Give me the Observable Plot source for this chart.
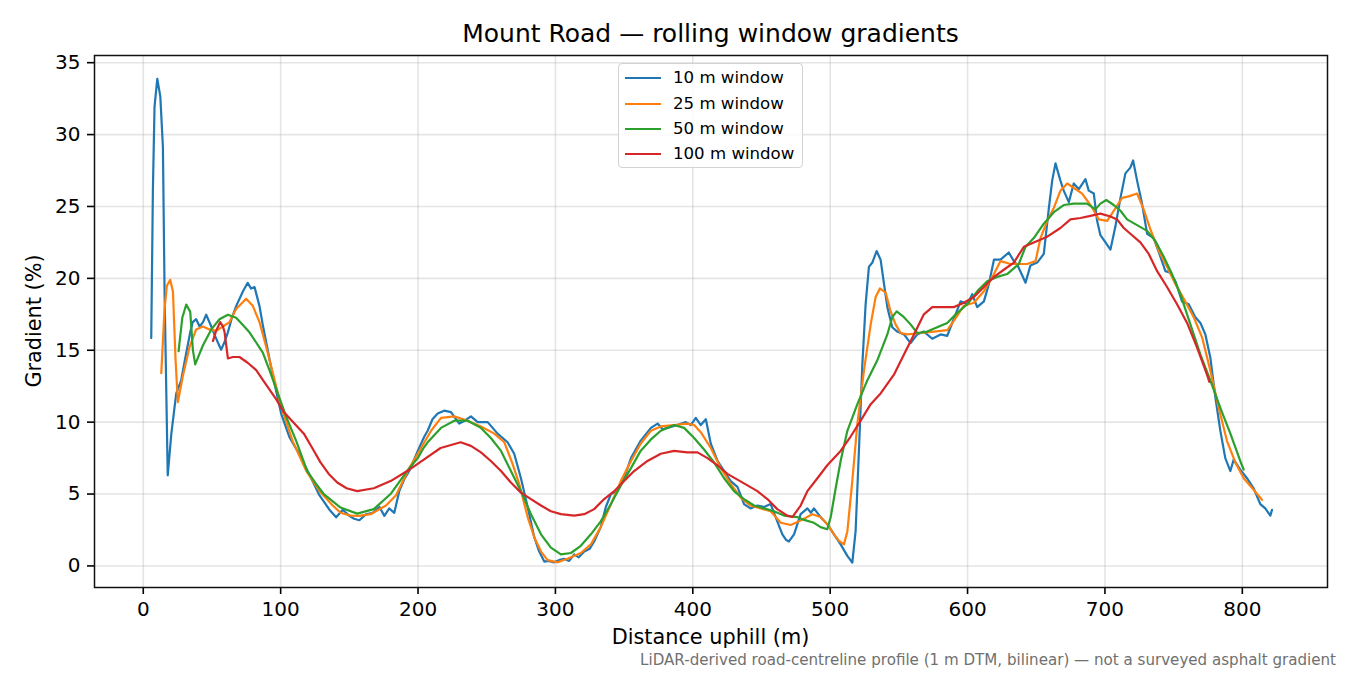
<!DOCTYPE html>
<html>
<head>
<meta charset="utf-8">
<script src="https://cdn.jsdelivr.net/npm/d3@7"></script>
<script src="https://cdn.jsdelivr.net/npm/@observablehq/plot@0.6"></script>
<style>
  html, body { margin: 0; padding: 0; background: #fff; }
  #wrap { position: relative; width: 1350px; height: 675px; font-family: "DejaVu Sans", sans-serif; color: #000; overflow: hidden; }
  #chart { position: absolute; left: 0; top: 0; }
  .abs { position: absolute; white-space: nowrap; line-height: 1; }
  #title { left: 0; width: 1421px; text-align: center; top: 21px; font-size: 25px; }
  #xlabel { left: 0; width: 1421px; text-align: center; top: 627px; font-size: 20.8px; }
  #ylabel { left: 34px; top: 321px; font-size: 20.8px; transform: translate(-50%, -50%) rotate(-90deg); }
  #caption { right: 14px; top: 653px; font-size: 15.1px; color: #707070; }
  #legend { left: 618px; top: 63px; width: 183px; height: 103px; border: 1px solid #d3d3d3; border-radius: 4px; background: rgba(255,255,255,0.85); }
  .lrow { position: absolute; left: 0; height: 20px; width: 183px; }
  .lsw { position: absolute; left: 6px; width: 36px; height: 2.3px; top: 9px; }
  .ltx { position: absolute; left: 54px; top: 2px; font-size: 16.6px; line-height: 1; }
</style>
</head>
<body>
<div id="wrap">
  <div id="chart"></div>
  <div class="abs" id="title">Mount Road — rolling window gradients</div>
  <div class="abs" id="xlabel">Distance uphill (m)</div>
  <div class="abs" id="ylabel">Gradient (%)</div>
  <div class="abs" id="caption">LiDAR-derived road-centreline profile (1 m DTM, bilinear) — not a surveyed asphalt gradient</div>
  <div class="abs" id="legend"></div>
</div>
<script>
// ---- Data ----
const seriesNames = ["10 m window", "25 m window", "50 m window", "100 m window"];
const seriesColors = ["#1f77b4", "#ff7f0e", "#2ca02c", "#d62728"];
const xTicks = [0, 100, 200, 300, 400, 500, 600, 700, 800];
const yTicks = [0, 5, 10, 15, 20, 25, 30, 35];

const dist10 = [5.8,7.0,8.2,10.2,12.4,14.3,15.5,17.8,20.4,24,27.6,31.3,34.2,36,38.5,41,43.5,45.8,49.5,52,54.3,56.7,59,61.6,64.5,67.6,72.5,76,78.5,81,84.6,87,89.5,94.3,100.4,106.4,113.7,121,128.2,135.5,140.4,145.2,150,153.5,157.3,162,167,171.9,175.5,179,182.7,186.4,190,193.7,199.8,204.6,207,210.5,214.3,219,224,227,230,234,238.5,243.4,250.7,257.9,265.2,270,274.9,279.8,284.6,288.2,291.9,295,299,302.5,306.4,310,313.7,317,321,325,328.2,333,336.7,340.4,345,350,355,362,369.5,374.4,378,381.6,388.8,394.9,398.5,402.2,405.8,409.5,413.1,418,422.8,427.6,432.5,437.3,442,447,451.8,456.7,461.5,465.2,468,470,473.7,478.5,483.4,486,488.2,493,497.9,502.8,507.6,512.5,516.1,518.5,521,523.4,525.8,528.2,530.7,533.8,536.7,539.2,541.6,545.2,548.8,553.7,558.5,563.4,568.2,574.3,580.4,585.2,587.6,591.3,594.9,599.8,603.4,607,611.9,615.5,619.2,624,630,633.7,636.5,642.2,645.8,650.7,655.5,659.2,661.6,664,667.6,670,673.7,677.3,681,685.8,688.2,691.9,694.3,696.7,700.4,704,707.6,711.3,714.9,718.5,720.5,723.4,727,730.7,735.5,740.4,744,747.6,751.3,756.1,761,765.8,769.5,773.1,776.7,780.4,784,787.6,791.3,793.7,798.5,803.4,808.2,813.1,816.7,820.4,821.6];
const grad10 = [15.85,26.1,31.95,33.88,32.66,29.12,19.09,6.3,9.16,12.0,12.91,14.83,16.25,16.96,17.16,16.65,16.96,17.47,16.65,16.05,15.54,15.04,15.54,16.25,17.26,18.07,19.09,19.69,19.29,19.39,18.07,16.76,15.54,13.21,10.58,8.96,7.75,6.34,4.92,3.91,3.38,3.91,3.48,3.28,3.18,3.59,3.69,4.1,3.48,4.0,3.69,5.23,6.03,6.63,8.0,9.0,9.4,10.2,10.6,10.8,10.7,10.3,9.9,10.1,10.4,10.0,10.0,9.2,8.6,7.8,6.1,4.1,2.0,1.0,0.3,0.35,0.25,0.4,0.5,0.35,0.8,0.6,1.0,1.2,1.7,2.7,4.1,5.0,5.2,6.1,7.5,8.7,9.6,9.9,9.5,9.6,9.8,10.0,9.8,10.3,9.8,10.2,8.5,7.3,6.6,5.9,5.5,4.3,4.0,4.2,4.1,4.3,3.1,2.2,1.8,1.7,2.2,3.6,4.0,3.7,4.0,3.4,2.9,2.2,1.5,0.7,0.23,2.4,8.2,14.0,18.2,20.8,21.1,21.9,21.3,19.6,18.0,16.6,16.3,16.1,15.5,16.1,16.3,15.8,16.1,16.0,16.6,17.5,18.4,18.2,18.9,18.0,18.4,19.6,21.3,21.3,21.8,21.2,20.9,19.7,20.9,21.1,21.7,24.9,26.8,28.0,26.8,26.1,25.3,26.6,26.2,26.9,26.1,25.9,24.0,23.0,22.5,22.0,23.6,25.6,27.3,27.7,28.2,26.8,25.2,23.1,22.8,21.5,20.5,20.4,19.8,18.4,18.2,17.3,16.9,16.1,14.5,11.7,9.4,7.5,6.6,7.4,6.7,6.1,5.4,4.3,4.0,3.5,3.9];

const dist25 = [13.1,15.5,17.2,19.6,21.6,23.5,25.2,28.8,33.7,38.5,43.4,48.2,53.1,57.9,62.8,67.6,74.9,79.8,84.6,89.5,94.3,100.4,108.8,118.5,128.2,137.9,143.6,150.9,157.3,165.4,176.7,184,193.7,199.8,209.5,216.7,226.4,236.1,245.8,255.5,262.8,268.8,273.7,279.8,284.6,289.5,294.3,301.6,308.8,318.5,325.8,333,340.4,347.6,355,362,369.5,376.7,386.4,396,401,405.8,413.1,420.4,427.6,434.9,442,449.4,456.7,464,471.3,477.3,487,493,497.9,502.8,506.4,510,512.5,516.1,519.8,524.6,529.5,533.1,536.2,540.4,544,547.6,551.3,556.1,565.8,575.5,585.2,590,597.3,604.6,611.9,619.2,624,631.3,638.5,643.4,649.5,653.1,658,662.8,667.6,672.5,677.3,683.4,689.5,695.5,701.6,706.4,712.5,717.3,723.4,728.2,733.1,739.2,745.2,751.3,757.3,764.6,770.7,776.7,782.8,788.8,794.9,801,808.2,814.3];
const grad25 = [13.41,17.88,19.49,19.9,19.09,14.33,11.39,13.21,15.23,16.45,16.65,16.45,16.35,16.65,16.96,17.87,18.58,18.07,16.96,15.23,13.41,11.08,8.66,6.63,5.21,4.2,3.7,3.5,3.48,3.6,4.2,4.92,6.83,7.8,9.4,10.3,10.4,10.1,9.7,9.2,8.6,7.1,5.7,3.4,2.0,1.0,0.4,0.25,0.5,0.9,1.5,2.7,4.3,5.9,7.3,8.5,9.4,9.7,9.8,9.9,9.8,9.3,8.2,6.8,5.7,4.75,4.2,4.0,3.8,3.0,2.85,3.1,3.6,3.4,2.9,2.2,1.74,1.5,2.4,5.9,9.9,13.6,16.8,18.7,19.3,19.0,17.7,16.8,16.2,16.1,16.2,16.3,16.4,17.05,18.1,18.3,19.1,20.3,21.2,21.0,21.0,21.0,21.2,22.8,24.0,24.9,26.1,26.6,26.3,25.9,25.1,24.1,24.0,24.7,25.6,25.7,25.9,24.8,23.4,21.9,20.8,19.6,18.6,17.3,15.9,13.6,11.0,8.7,7.2,6.1,5.3,4.6];

const dist50 = [25.7,28.4,31.3,34.2,36.1,37.8,43.4,49.5,55.5,61.6,67.6,72.5,77.3,82.2,87,91.9,98,104,111.3,119.3,125.8,131.4,143.6,155.7,167.8,180,192,199.8,204,207,216.7,226.4,236.1,245.8,253,260.4,267.6,274.9,282.2,289.5,296.7,304,311.3,318.5,325.8,333,340.4,347.6,355,362,369.5,376.7,386.4,393.7,401,408.2,415.5,422.8,430,437.3,444.6,452,459,466.4,476,481,488.2,493,497.9,500.4,504,507.6,512.5,519.8,527,534.3,541.6,545.2,548.4,553.7,558.5,563.4,570.6,577.9,585.2,592.5,599.8,607,614.3,621.6,628.8,637.3,642.2,648.2,655.5,662.8,670,677.3,687,693.1,696.7,701,706.4,711.3,716.1,723.4,730.7,736.7,742.8,748.8,754.9,762.2,769.5,776.7,784,791.3,798.5,801];
const grad50 = [14.93,17.26,18.18,17.67,15.03,14.02,15.33,16.45,17.16,17.47,17.26,16.76,16.25,15.54,14.83,13.6,11.99,10.38,8.7,6.6,5.7,5.0,4.06,3.64,3.95,5.0,6.6,7.5,8.2,8.6,9.6,10.1,10.1,9.6,8.9,8.0,6.6,5.2,3.6,2.2,1.27,0.8,0.9,1.4,2.2,3.1,4.3,5.6,6.8,8.0,8.8,9.4,9.8,9.6,8.9,8.1,7.2,6.1,5.2,4.65,4.2,4.0,3.8,3.5,3.4,3.2,3.0,2.7,2.55,3.4,5.4,7.3,9.4,11.25,12.9,14.3,16.1,17.3,17.7,17.3,16.8,16.2,16.3,16.6,16.9,17.6,18.2,19.1,19.8,20.1,20.3,21.0,22.2,22.8,23.8,24.6,25.1,25.2,25.2,24.8,25.2,25.45,25.1,24.7,24.1,23.7,23.3,22.6,21.5,20.3,18.9,16.8,14.7,12.9,11.0,9.2,7.3,6.7];

const dist100 = [50.7,53,56,58,59.2,61.6,65.2,70,76,82.2,88,96.7,102.3,110,116.9,123,129,135,141.2,148,155.7,167.8,180,192.1,204.2,216.4,231,238.5,245.8,253,260.4,267.6,274.9,282.2,289.5,296.7,304,313.7,321,328.2,335.5,342.8,350,357.3,367,376.7,386.4,396,403.4,410.7,418,425.2,432.5,439.8,447,454.3,461.5,468.8,472.5,478.5,483.4,490.7,497.9,507.6,514.9,522.2,529.5,536.7,546.4,553.7,561,568.2,574.3,582.8,590,597.3,604.6,611.9,619.2,626.4,633.7,641,648.2,658,667.6,674.9,682.2,689.5,696.7,704,708.8,713.7,718.5,725.8,731.9,738,745.2,752.5,759.8,767,774.3,776];
const grad100 = [15.64,16.35,16.96,16.65,16.25,14.43,14.53,14.53,14.13,13.62,12.8,11.6,10.7,9.9,9.2,8.2,7.2,6.4,5.8,5.4,5.2,5.4,5.9,6.6,7.4,8.2,8.6,8.35,7.9,7.3,6.6,5.8,5.1,4.65,4.2,3.8,3.6,3.5,3.6,3.95,4.65,5.2,5.9,6.6,7.3,7.8,8.0,7.9,7.9,7.5,7.0,6.4,6.0,5.6,5.2,4.65,3.95,3.5,3.4,4.2,5.2,6.1,7.0,8.0,9.0,10.1,11.25,12.0,13.3,14.7,16.1,17.5,18.0,18.0,18.0,18.3,18.7,19.4,20.1,20.6,21.1,22.2,22.5,22.9,23.5,24.1,24.2,24.35,24.5,24.3,24.1,23.5,23.1,22.5,21.7,20.5,19.4,18.2,16.9,15.2,13.3,12.8];

// ---- Build tables ----
const dists = [dist10, dist25, dist50, dist100];
const grads = [grad10, grad25, grad50, grad100];
const tables = dists.map((ds, i) => ds.map((d, j) => ({d, g: grads[i][j]})));

const gridStyle = {stroke: "#b0b0b0", strokeOpacity: 0.33, strokeWidth: 1.6};

const chart = Plot.plot({
  width: 1350,
  height: 675,
  marginLeft: 94,
  marginRight: 23,
  marginTop: 55,
  marginBottom: 88,
  style: {fontFamily: "DejaVu Sans, sans-serif", fontSize: "20px", color: "#000", background: "transparent"},
  x: {domain: [-35.5, 862], label: null},
  y: {domain: [-1.5, 35.5], label: null},
  marks: [
    Plot.gridX(xTicks, gridStyle),
    Plot.gridY(yTicks, gridStyle),
    ...tables.map((t, i) => Plot.line(t, {x: "d", y: "g", stroke: seriesColors[i], strokeWidth: 2.2, strokeLinejoin: "round"})),
    Plot.axisX(xTicks, {tickSize: 7, tickPadding: 7, fontSize: 20, strokeWidth: 1.6, label: null}),
    Plot.axisY(yTicks, {tickSize: 7, tickPadding: 7, fontSize: 20, strokeWidth: 1.6, label: null}),
    Plot.frame({stroke: "#111", strokeWidth: 1.5})
  ]
});
document.getElementById("chart").appendChild(chart);

// ---- Legend ----
const legend = document.getElementById("legend");
const rowTops = [4, 29.5, 54.5, 80];
seriesNames.forEach((name, i) => {
  const row = document.createElement("div");
  row.className = "lrow";
  row.style.top = rowTops[i] + "px";
  const sw = document.createElement("div");
  sw.className = "lsw";
  sw.style.background = seriesColors[i];
  const tx = document.createElement("div");
  tx.className = "ltx";
  tx.textContent = name;
  row.appendChild(sw);
  row.appendChild(tx);
  legend.appendChild(row);
});
</script>
</body>
</html>
